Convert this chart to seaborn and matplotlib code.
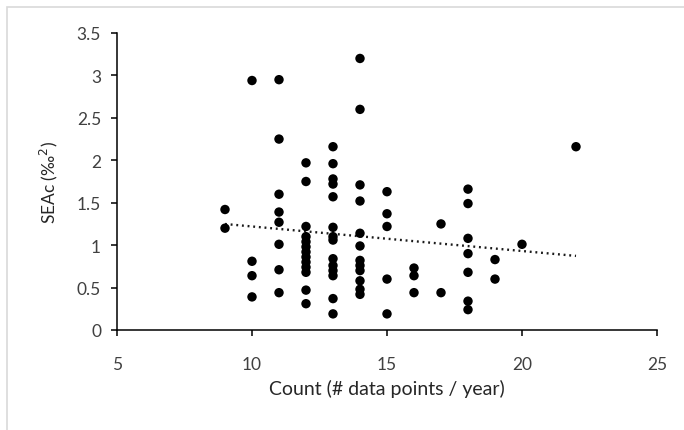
import numpy as np
import pandas as pd
import matplotlib
matplotlib.use("Agg")
import matplotlib.pyplot as plt
import seaborn as sns
from matplotlib.patches import Rectangle

# ---- data ----
count_9 = [1.42, 1.20]
count_10 = [2.94, 0.81, 0.64, 0.39]
count_11 = [2.95, 2.25, 1.60, 1.39, 1.27, 1.01, 0.71, 0.44]
count_12 = [1.97, 1.75, 1.22, 1.10, 1.04, 0.98, 0.92, 0.86, 0.80, 0.74, 0.68, 0.47, 0.31]
count_13 = [2.16, 1.96, 1.78, 1.72, 1.57, 1.21, 1.10, 1.06, 0.84, 0.76, 0.70, 0.64, 0.37, 0.19]
count_14 = [3.20, 2.60, 1.71, 1.52, 1.14, 0.99, 0.82, 0.76, 0.70, 0.58, 0.48, 0.42]
count_15 = [1.63, 1.37, 1.22, 0.60, 0.19]
count_16 = [0.73, 0.64, 0.44]
count_17 = [1.25, 0.44]
count_18 = [1.66, 1.49, 1.08, 0.90, 0.68, 0.34, 0.24]
count_19 = [0.83, 0.60]
count_20 = [1.01]
count_22 = [2.16]

groups = {9: count_9, 10: count_10, 11: count_11, 12: count_12, 13: count_13,
          14: count_14, 15: count_15, 16: count_16, 17: count_17, 18: count_18,
          19: count_19, 20: count_20, 22: count_22}

x_ticks = [5, 10, 15, 20, 25]
y_ticks = [0, 0.5, 1, 1.5, 2, 2.5, 3, 3.5]
y_tick_labels = ["0", "0.5", "1", "1.5", "2", "2.5", "3", "3.5"]

rows = [(k, v) for k, vals in groups.items() for v in vals]
df = pd.DataFrame(rows, columns=["count", "seac"])

sns.set_style("white")
plt.rcParams['font.family'] = ['Lato', 'DejaVu Sans']

fig = plt.figure(figsize=(6.84, 4.31), dpi=100)
ax = fig.add_axes([117/684, 1 - 331/431, (657 - 117)/684, (331 - 34)/431])

sns.scatterplot(data=df, x="count", y="seac", ax=ax, color="black",
                s=46, edgecolor="none", zorder=3)
sns.regplot(data=df, x="count", y="seac", ax=ax, scatter=False, ci=None,
            line_kws=dict(color="#1a1a1a", lw=1.7, linestyle=(0, (0.8, 1.6)),
                          zorder=2))

ax.set_xlim(5, 25)
ax.set_ylim(0, 3.5)
ax.set_xticks(x_ticks)
ax.set_xticklabels([str(t) for t in x_ticks])
ax.set_yticks(y_ticks)
ax.set_yticklabels(y_tick_labels)

for side in ["top", "right"]:
    ax.spines[side].set_visible(False)
for side in ["left", "bottom"]:
    ax.spines[side].set_color("black")
    ax.spines[side].set_linewidth(1.1)

ax.tick_params(axis="both", which="major", direction="out", length=4.5,
               width=1.1, color="black", labelsize=12.5, labelcolor="#404040",
               left=True, bottom=True)
ax.tick_params(axis="y", pad=7)
ax.tick_params(axis="x", pad=14)

ax.set_xlabel("Count (# data points / year)", fontsize=14, color="#262626", labelpad=5)
ax.set_ylabel("SEAc (‰$^2$)", fontsize=12.5, color="#262626", labelpad=12)

# light grey chart border
fig.patches.append(Rectangle((7/684, -0.1), 1.2, 1 - 8/431 + 0.1,
                             transform=fig.transFigure, fill=False,
                             edgecolor="#d9d9d9", lw=1.2, zorder=0))

fig.savefig("out.png", dpi=100)
